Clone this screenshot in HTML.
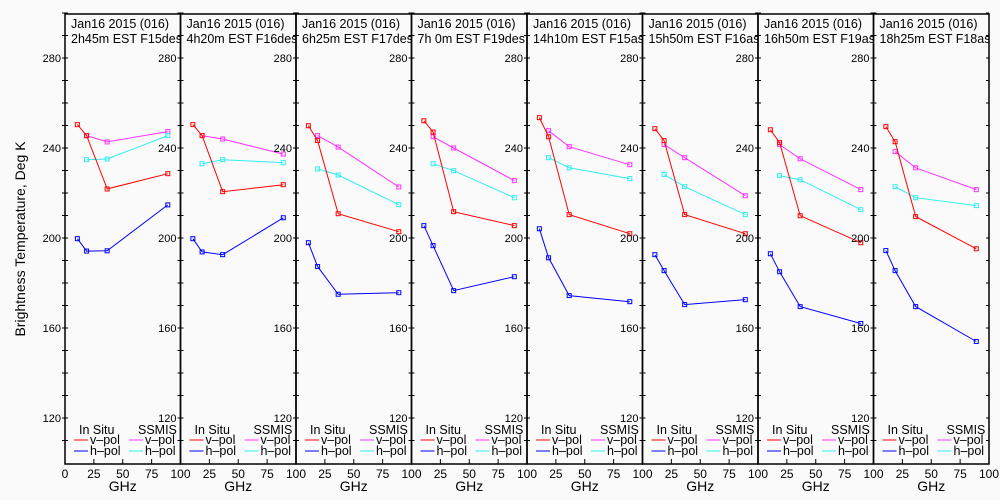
<!DOCTYPE html>
<html><head><meta charset="utf-8"><style>
html,body{margin:0;padding:0;background:#fafafa;}
svg{display:block;font-family:"Liberation Sans",sans-serif;}
</style></head><body>
<svg id="chart" width="1000" height="500" viewBox="0 0 1000 500" xmlns="http://www.w3.org/2000/svg">
<rect x="0" y="0" width="1000" height="500" fill="#fafafa"/>
<text x="25" y="239" transform="rotate(-90 25 239)" text-anchor="middle" font-size="14" fill="#000">Brightness Temperature, Deg K</text>
<g id="panels"></g>
</svg>
<script>
const freqsV = [10.7, 18.7, 36.5, 89];
const freqsS = [18.7, 36.5, 89];
const titles1 = ["Jan16 2015 (016)","Jan16 2015 (016)","Jan16 2015 (016)","Jan16 2015 (016)","Jan16 2015 (016)","Jan16 2015 (016)","Jan16 2015 (016)","Jan16 2015 (016)"];
const titles2 = ["2h45m EST F15des","4h20m EST F16des","6h25m EST F17des","7h 0m EST F19des","14h10m EST F15asc","15h50m EST F16asc","16h50m EST F19asc","18h25m EST F18asc"];
const insituV = [
 [250.4,245.5,221.8,228.6],[250.4,245.5,220.6,223.7],[249.9,243.3,210.8,202.8],[252.1,247.1,211.7,205.5],
 [253.5,245.0,210.4,201.9],[248.6,243.3,210.4,201.9],[248.1,242.4,209.9,197.9],[249.5,242.8,209.5,195.2]];
const insituH = [
 [199.7,194.2,194.3,214.7],[199.7,193.8,192.6,209.0],[197.9,187.3,175.0,175.7],[205.5,196.6,176.6,182.8],
 [204.1,191.2,174.4,171.7],[192.6,185.5,170.4,172.6],[193.0,185.0,169.5,162.0],[194.4,185.5,169.5,154.0]];
const ssmisV = [
 [245.5,242.7,247.3],[245.5,244.0,237.3],[245.5,240.4,222.7],[245.0,240.0,225.5],
 [247.7,240.6,232.6],[241.5,235.7,218.8],[241.5,235.2,221.5],[238.4,231.2,221.5]];
const ssmisH = [
 [234.8,235.1,245.5],[233.0,234.8,233.5],[230.7,228.0,214.8],[233.0,229.9,217.9],
 [235.7,231.2,226.4],[228.2,222.8,210.4],[227.7,225.9,212.6],[222.8,217.9,214.4]];
const yTicks = [280,240,200,160,120];
const xTicks = [0,25,50,75,100];

const NS="http://www.w3.org/2000/svg";
const root=document.getElementById('panels');
const P0=65, PW=115.5, TOP=14, BOT=464;
function yv(v){return 58+(280-v)*2.25;}
function xv(p,f){return P0+p*PW+f*PW/100;}
function mk(tag,attrs,parent){const e=document.createElementNS(NS,tag);for(const k in attrs)e.setAttribute(k,attrs[k]);(parent||root).appendChild(e);return e;}

const defs=mk('defs',{});
for(let p=0;p<8;p++){
  const cp=mk('clipPath',{id:'cp'+p},defs);
  mk('rect',{x:xv(p,0),y:0,width:PW,height:60},cp);
}

function series(p,freqs,vals,color,name){
  const g=mk('g',{});
  
  
  const pts=vals.map((v,i)=>xv(p,freqs[i]).toFixed(1)+','+yv(v).toFixed(1)).join(' ');
  mk('polyline',{points:pts,fill:'none',stroke:color,'stroke-width':1},g);
  vals.forEach((v,i)=>{
    const r=mk('rect',{x:xv(p,freqs[i])-2,y:yv(v)-2,width:4,height:4,fill:'none',stroke:color,'stroke-width':1},g);
    
    
  });
}

for(let p=0;p<8;p++){
  const x0=xv(p,0), x1=xv(p,100);
  const g=mk('g',{});
  
  
  const fr=mk('rect',{x:x0,y:TOP,width:PW,height:BOT-TOP,fill:'none',stroke:'#000','stroke-width':1.5},g);
  
  
  for(let v=110;v<=300;v+=10){
    const y=yv(v);
    mk('line',{x1:x0-3,x2:x0+3,y1:y,y2:y,stroke:'#000','stroke-width':1},g);
    if(p===7) mk('line',{x1:x1-3,x2:x1,y1:y,y2:y,stroke:'#000','stroke-width':1},g);
  }
  yTicks.forEach(v=>{
    const t=mk('text',{x:x0-4,y:yv(v)+4,'text-anchor':'end','font-size':11,fill:'#000'},g);
    t.textContent=v;
    
    
  });
  xTicks.forEach(f=>{
    const x=xv(p,f);
    mk('line',{x1:x,x2:x,y1:BOT,y2:BOT-5,stroke:'#000','stroke-width':1},g);
    if(f===0 && p>0) return;
    const t=mk('text',{x:x,y:BOT+14,'text-anchor':'middle','font-size':12,fill:'#000'},g);
    t.textContent=f;
    
    
  });
  const gx=mk('text',{x:xv(p,50),y:491,'text-anchor':'middle','font-size':14,fill:'#000'},g);
  gx.textContent='GHz';
  
  
  const tg=mk('g',{'clip-path':'url(#cp'+p+')'},g);
  const t1=mk('text',{x:x0+6,y:28,'font-size':12.5,fill:'#000'},tg);
  t1.textContent=titles1[p];
  
  
  const t2=mk('text',{x:x0+6,y:43,'font-size':12.5,fill:'#000'},tg);
  t2.textContent=titles2[p];
  
  
  series(p,freqsS,ssmisV[p],'#ff33ff','ssmis-v-pol-line');
  series(p,freqsS,ssmisH[p],'#33eeee','ssmis-h-pol-line');
  series(p,freqsV,insituV[p],'#ff0000','insitu-v-pol-line');
  series(p,freqsV,insituH[p],'#0000ff','insitu-h-pol-line');
  const lg=mk('g',{},g);
  
  
  const a=mk('text',{x:x0+14,y:434,'font-size':12.5,fill:'#000'},lg); a.textContent='In Situ';
  const b=mk('text',{x:x0+73,y:434,'font-size':12.5,fill:'#000'},lg); b.textContent='SSMIS';
  const items=[[9,440,'#ff0000','v\u2013pol'],[9,451,'#0000ff','h\u2013pol'],[64,440,'#ff33ff','v\u2013pol'],[64,451,'#33eeee','h\u2013pol']];
  items.forEach(it=>{
    const e=mk('g',{},lg);
    
    
    mk('line',{x1:x0+it[0],x2:x0+it[0]+14,y1:it[1],y2:it[1],stroke:it[2],'stroke-width':1},e);
    const t=mk('text',{x:x0+it[0]+16,y:it[1]+4,'font-size':12.5,fill:'#000'},e);
    t.textContent=it[3];
  });
}
</script>
</body></html>
